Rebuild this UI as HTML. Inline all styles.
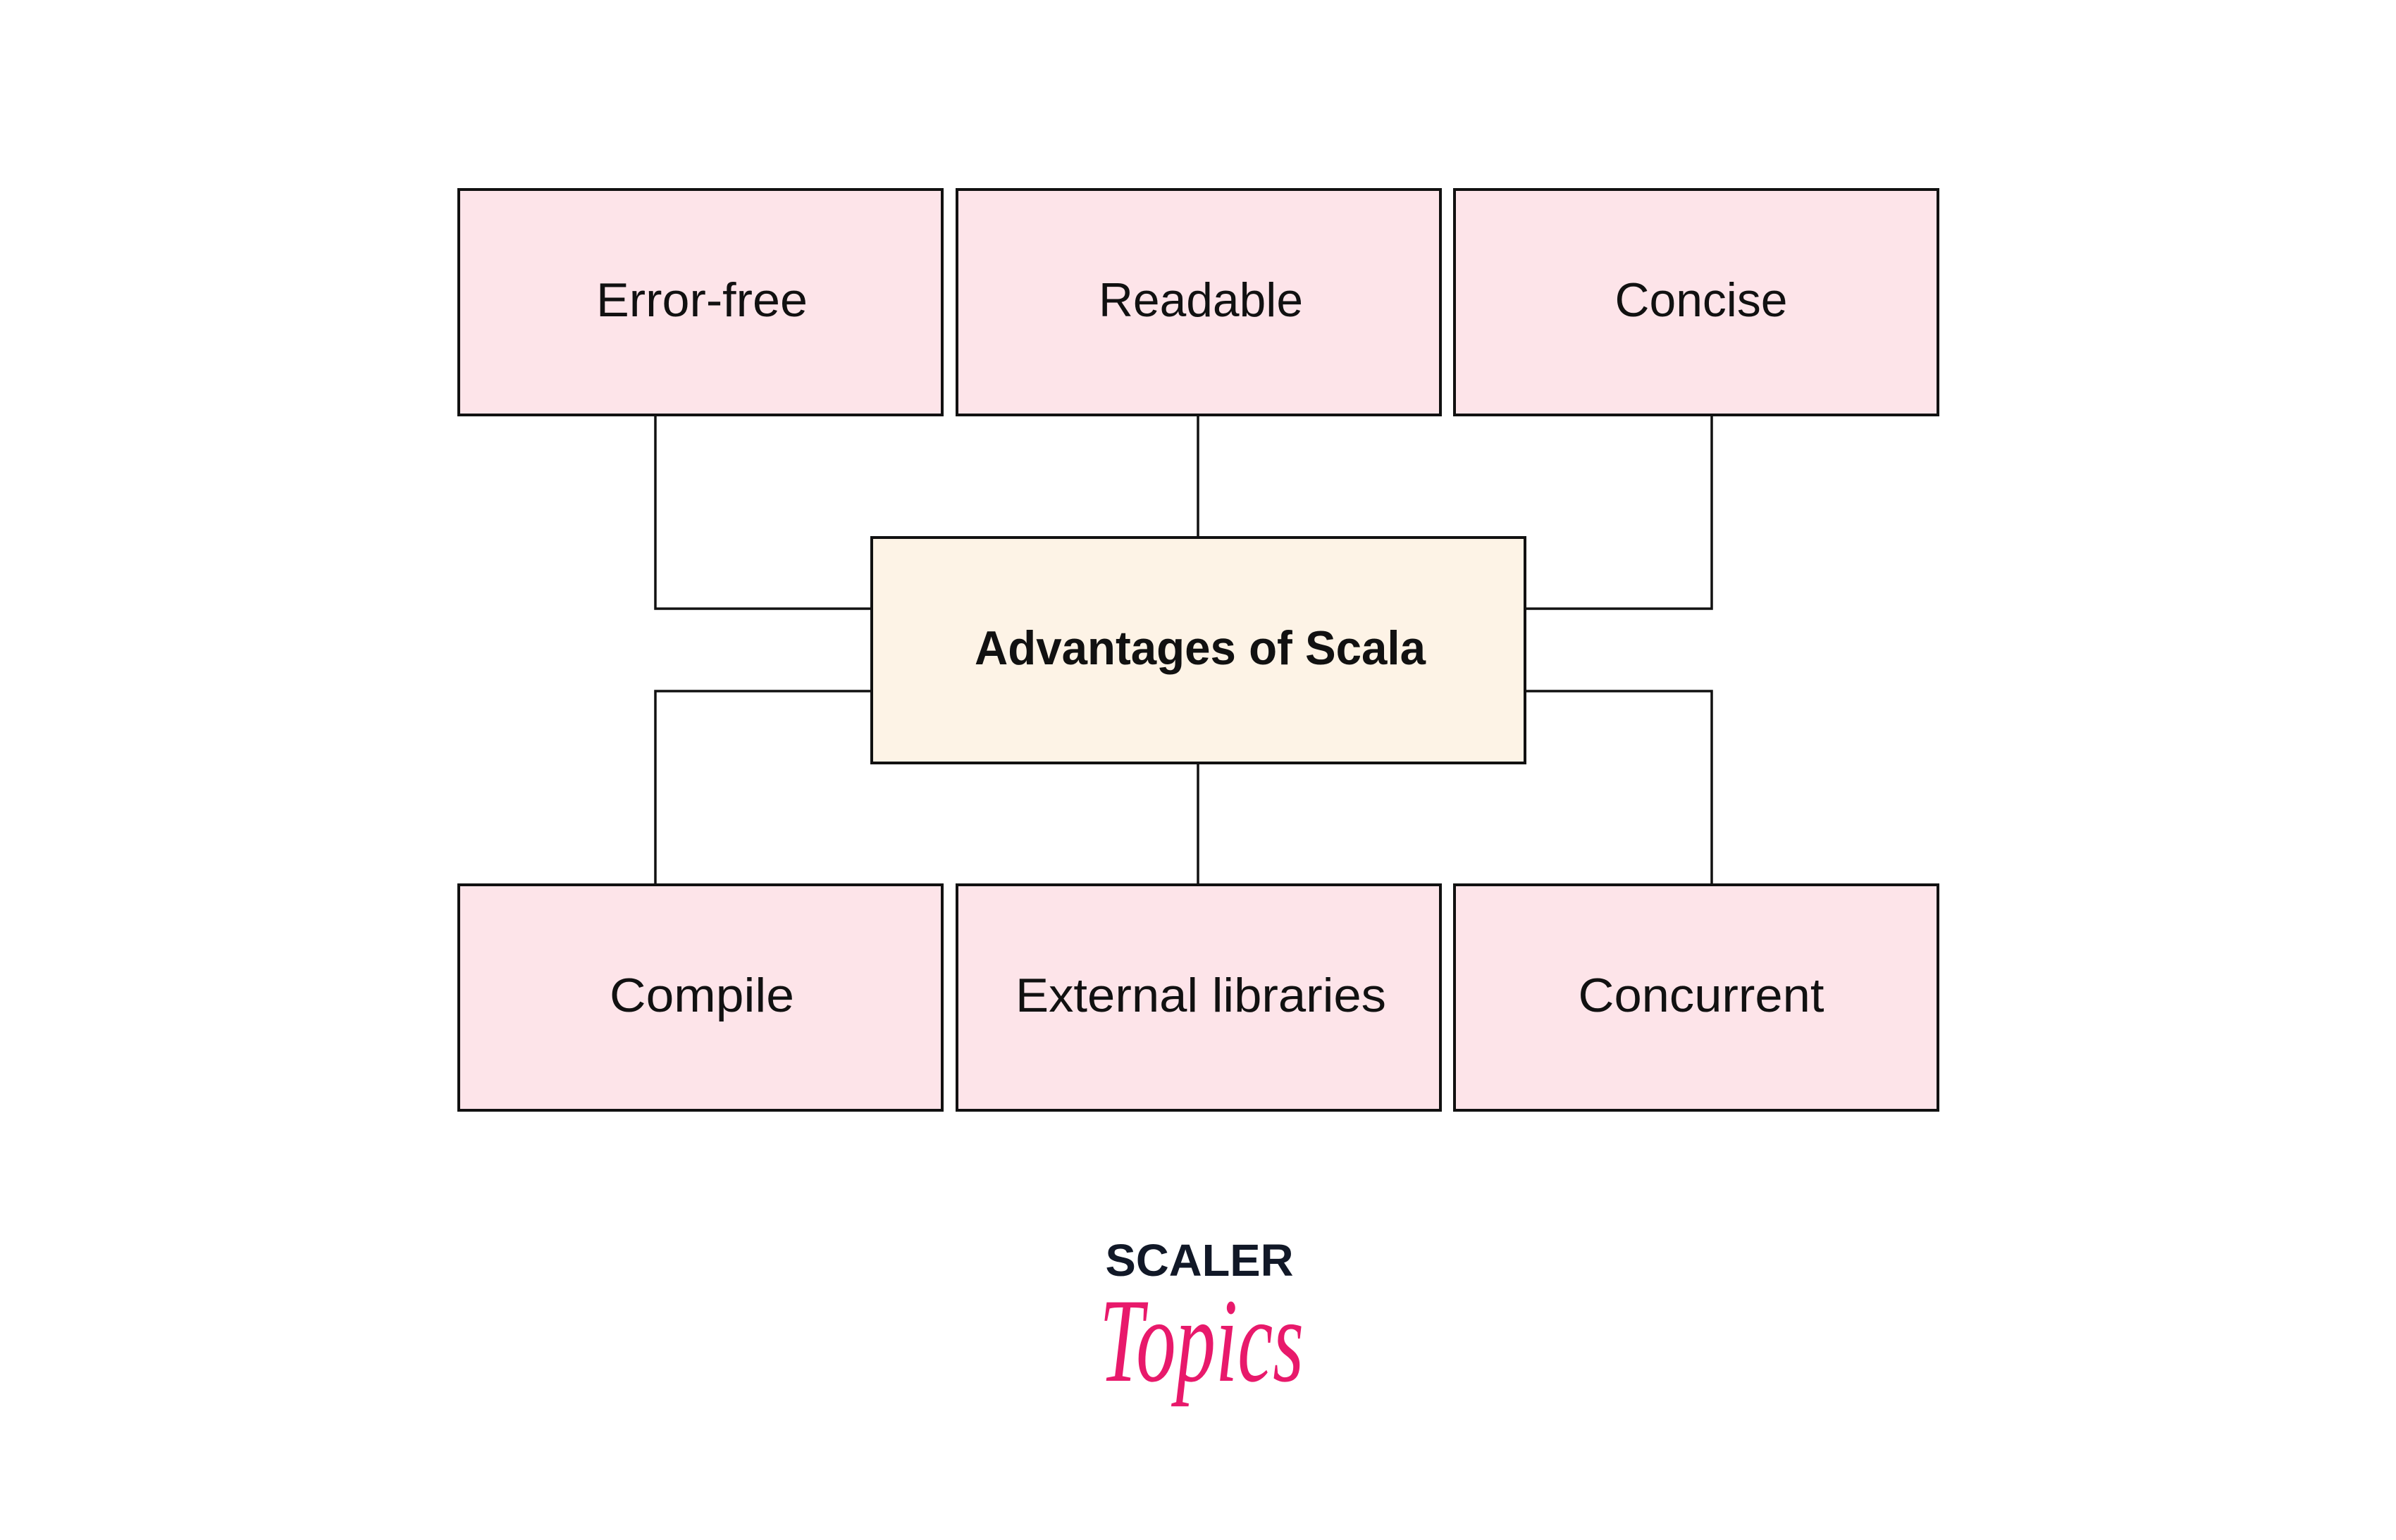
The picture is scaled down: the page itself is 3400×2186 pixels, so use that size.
<!DOCTYPE html>
<html><head><meta charset="utf-8"><style>
html,body{margin:0;padding:0;background:#fff;}
body{width:3400px;height:2186px;position:relative;overflow:hidden;font-family:"Liberation Sans",sans-serif;}
</style></head><body>
<svg width="3400" height="2186" viewBox="0 0 3400 2186" xmlns="http://www.w3.org/2000/svg" style="position:absolute;left:0;top:0">
<g fill="none" stroke="#111" stroke-width="3.5">
<polyline points="930,589 930,864 1236,864"/>
<line x1="1700" y1="589" x2="1700" y2="762"/>
<polyline points="2429,589 2429,864 2164,864"/>
<polyline points="930,1254 930,981 1236,981"/>
<line x1="1700" y1="1083" x2="1700" y2="1254"/>
<polyline points="2429,1254 2429,981 2164,981"/>
</g>
<g stroke="#111" stroke-width="4" fill="#fde4e9">
<rect x="651" y="269" width="686" height="320"/>
<rect x="1358" y="269" width="686" height="320"/>
<rect x="2064" y="269" width="686" height="320"/>
<rect x="651" y="1256" width="686" height="320"/>
<rect x="1358" y="1256" width="686" height="320"/>
<rect x="2064" y="1256" width="686" height="320"/>
<rect x="1237" y="763" width="927" height="320" fill="#fdf3e6"/>
</g>
<g font-family="Liberation Sans, sans-serif" font-size="68" fill="#111" text-anchor="middle">
<text x="996" y="449" textLength="300" lengthAdjust="spacingAndGlyphs">Error-free</text>
<text x="1704" y="449" textLength="290" lengthAdjust="spacingAndGlyphs">Readable</text>
<text x="2414" y="449" textLength="245" lengthAdjust="spacingAndGlyphs">Concise</text>
<text x="996" y="1436" textLength="262" lengthAdjust="spacingAndGlyphs">Compile</text>
<text x="1704" y="1436" textLength="526" lengthAdjust="spacingAndGlyphs">External libraries</text>
<text x="2414" y="1436" textLength="349" lengthAdjust="spacingAndGlyphs">Concurrent</text>
<text x="1703" y="943" font-weight="bold" textLength="640" lengthAdjust="spacingAndGlyphs">Advantages of Scala</text>
</g>
<text x="1702" y="1811" font-family="Liberation Sans, sans-serif" font-weight="bold" font-size="64" fill="#111827" text-anchor="middle" textLength="267" lengthAdjust="spacingAndGlyphs">SCALER</text>
<text x="1705" y="1960" font-family="Liberation Serif, serif" font-style="italic" font-size="170" fill="#e8196b" text-anchor="middle" textLength="290" lengthAdjust="spacingAndGlyphs">Topics</text>
</svg>
</body></html>
